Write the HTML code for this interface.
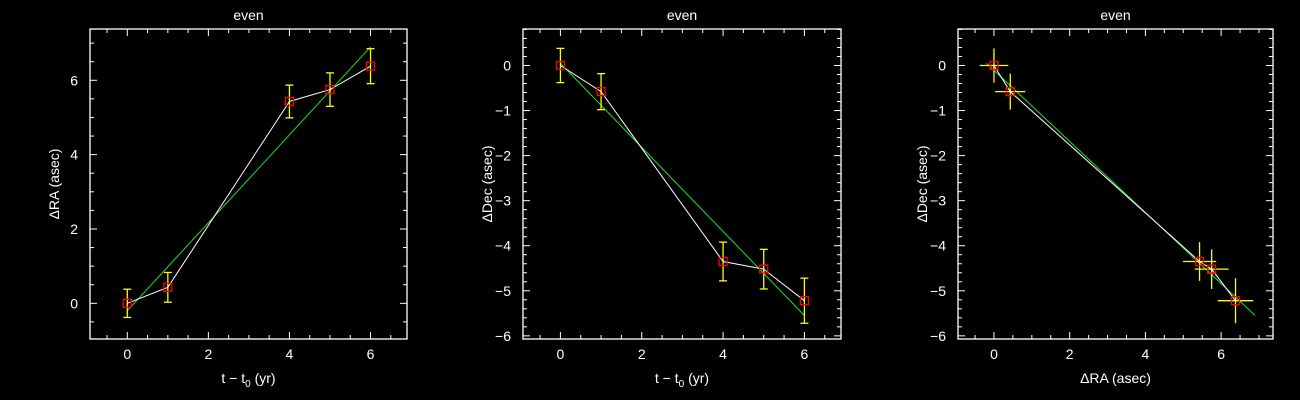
<!DOCTYPE html>
<html><head><meta charset="utf-8"><style>
html,body{margin:0;padding:0;background:#000;}
svg{display:block;font-family:"Liberation Sans",sans-serif;}
</style></head><body>
<svg id="c" width="1300" height="400" viewBox="0 0 1300 400"></svg>
<script>
const times=[0,1,4,5,6];
const raVals=[0,0.43,5.43,5.75,6.38];
const raErr=[0.38,0.4,0.44,0.45,0.47];
const decVals=[0,-0.58,-4.35,-4.52,-5.22];
const decErr=[0.38,0.4,0.43,0.44,0.5];
const raFit=[-0.2,1.183];   // intercept, slope
const decFit=[0.05,-0.933];
const xTicksT=[0,2,4,6];
const yTicksRA=[0,2,4,6];
const yTicksDec=[0,-1,-2,-3,-4,-5,-6];
const xTicksRA=[0,2,4,6];

const NS='http://www.w3.org/2000/svg';
const svg=document.getElementById('c');
function mk(tag,attrs,parent){const e=document.createElementNS(NS,tag);for(const k in attrs)e.setAttribute(k,attrs[k]);(parent||svg).appendChild(e);return e;}
function fmt(v){return v<0?'\u2212'+Math.abs(v):String(v);}

function panel(id,box,xr,yr,xt,xminor,yt,yminor,xlabel,ylabel){
  const g=mk('g',{});
  
  
  const [L,T,R,B]=box;
  const sx=v=>L+(v-xr[0])/(xr[1]-xr[0])*(R-L);
  const sy=v=>B-(v-yr[0])/(yr[1]-yr[0])*(B-T);
  const fr=mk('rect',{x:L,y:T,width:R-L,height:B-T,fill:'none',stroke:'#fff','stroke-width':1.3},g);
  
  
  for(let v=Math.ceil(xr[0]/xminor)*xminor;v<=xr[1]+1e-9;v+=xminor){
    const maj=xt.some(t=>Math.abs(t-v)<1e-6);const len=maj?7:4;const x=sx(v);
    mk('line',{x1:x,x2:x,y1:B,y2:B-len,stroke:'#fff'},g);
    mk('line',{x1:x,x2:x,y1:T,y2:T+len,stroke:'#fff'},g);
  }
  for(let v=Math.ceil(yr[0]/yminor)*yminor;v<=yr[1]+1e-9;v+=yminor){
    const maj=yt.some(t=>Math.abs(t-v)<1e-6);const len=maj?7:4;const y=sy(v);
    mk('line',{x1:L,x2:L+len,y1:y,y2:y,stroke:'#fff'},g);
    mk('line',{x1:R,x2:R-len,y1:y,y2:y,stroke:'#fff'},g);
  }
  xt.forEach(v=>{const t=mk('text',{x:sx(v),y:B+20,fill:'#fff','font-size':14,'text-anchor':'middle'},g);t.textContent=fmt(v);
    });
  yt.forEach(v=>{const t=mk('text',{x:L-12,y:sy(v)+5,fill:'#fff','font-size':14,'text-anchor':'end'},g);t.textContent=fmt(v);
    });
  const ti=mk('text',{x:(L+R)/2,y:20,fill:'#fff','font-size':14,'text-anchor':'middle'},g);ti.textContent='even';
  
  const xl=mk('text',{x:(L+R)/2,y:B+44,fill:'#fff','font-size':14,'text-anchor':'middle'},g);xl.innerHTML=xlabel;
  
  const yx=L-31,yy=(T+B)/2;
  const yl=mk('text',{x:yx,y:yy,fill:'#fff','font-size':14,'text-anchor':'middle',transform:`rotate(-90 ${yx} ${yy})`},g);yl.textContent=ylabel;
  
  return {g,sx,sy};
}

function drawSeries(p,xs,ys,xe,ye,fitX,fitY){
  const {g,sx,sy}=p;
  const fl=mk('line',{x1:sx(fitX(0)),y1:sy(fitY(0)),x2:sx(fitX(6)),y2:sy(fitY(6)),stroke:'#22dd22','stroke-width':1},g);
  
  xs.forEach((x,i)=>{
    const y=ys[i];
    const eb=mk('g',{stroke:'#ffff00','stroke-width':1.3},g);
    
    mk('line',{x1:sx(x),x2:sx(x),y1:sy(y-ye[i]),y2:sy(y+ye[i])},eb);
    if(xe){mk('line',{y1:sy(y),y2:sy(y),x1:sx(x-xe[i]),x2:sx(x+xe[i])},eb);}
    else{[y-ye[i],y+ye[i]].forEach(v=>mk('line',{x1:sx(x)-4,x2:sx(x)+4,y1:sy(v),y2:sy(v)},eb));}
  });
  const pl=mk('polyline',{points:xs.map((x,i)=>sx(x)+','+sy(ys[i])).join(' '),fill:'none',stroke:'#fff','stroke-width':1},g);
  
  xs.forEach((x,i)=>{
    const r=mk('rect',{x:sx(x)-4,y:sy(ys[i])-4,width:8,height:8,fill:'none',stroke:'#ff0000','stroke-width':1.3},g);
    
  });
}

const tl='t \u2212 t<tspan font-size="10" dy="4">0</tspan><tspan dy="-4"> (yr)</tspan>';
const fRA=t=>raFit[0]+raFit[1]*t, fDec=t=>decFit[0]+decFit[1]*t, id=t=>t;

const p1=panel('panel-ra-vs-time',[90,29,407,339],[-0.92,6.9],[-0.96,7.38],xTicksT,0.5,yTicksRA,0.5,tl,'\u0394RA (asec)');
drawSeries(p1,times,raVals,null,raErr,id,fRA);
const p2=panel('panel-dec-vs-time',[523,29,841,339],[-0.92,6.9],[-6.07,0.81],xTicksT,0.5,yTicksDec,0.2,tl,'\u0394Dec (asec)');
drawSeries(p2,times,decVals,null,decErr,id,fDec);
const p3=panel('panel-dec-vs-ra',[958,29,1273,339],[-0.95,7.37],[-6.07,0.81],xTicksRA,0.5,yTicksDec,0.2,'\u0394RA (asec)','\u0394Dec (asec)');
drawSeries(p3,raVals,decVals,raErr,decErr,fRA,fDec);
</script>
</body></html>
